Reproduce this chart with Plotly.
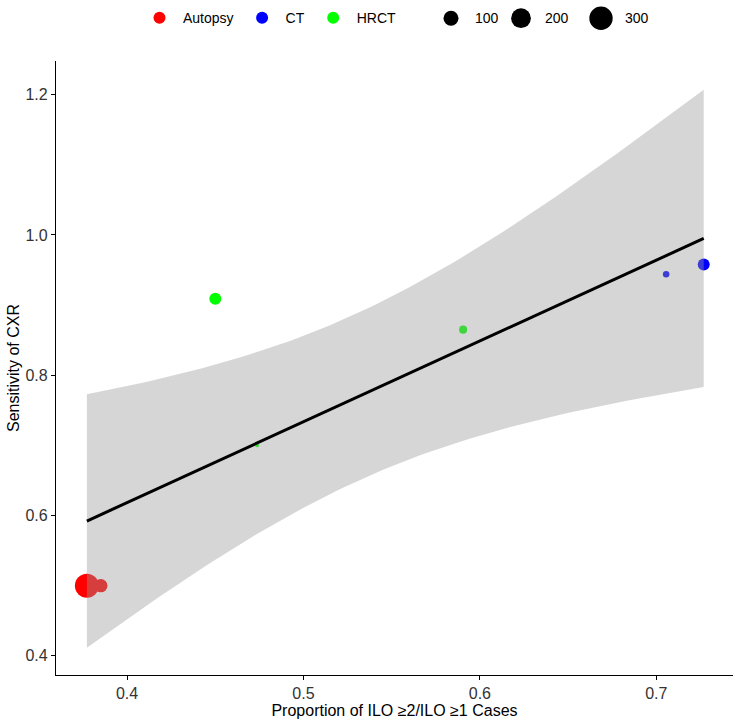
import numpy as np
import plotly.graph_objects as go

# ---- data ----
ref_standard = ["Autopsy", "Autopsy", "HRCT", "HRCT", "HRCT", "CT", "CT"]
prop_ilo = [0.3772, 0.3851, 0.4500, 0.4737, 0.5905, 0.7056, 0.7269]
sens_cxr = [0.500, 0.500, 0.909, 0.700, 0.865, 0.944, 0.958]
n_cases = [320, 75, 55, 5, 18, 10, 55]

group_names = ["Autopsy", "CT", "HRCT"]
group_colors = {"Autopsy": "#FF0000", "CT": "#0000FF", "HRCT": "#00FF00"}
size_breaks = [100, 200, 300]

x_ticks = [0.4, 0.5, 0.6, 0.7]
y_ticks = [0.4, 0.6, 0.8, 1.0, 1.2]

# ---- size scale (area-like, ggplot style) ----
n_min, n_max = min(n_cases), max(n_cases)


def diam(n):
    frac = max(0.0, (n - n_min) / (n_max - n_min))
    return 2 * 2.0 * (1 + 5 * np.sqrt(frac))


# ---- linear model with 95% CI (like geom_smooth(method="lm")) ----
x = np.array(prop_ilo)
y = np.array(sens_cxr)
k = len(x)
xm, ym = x.mean(), y.mean()
sxx = ((x - xm) ** 2).sum()
slope = ((x - xm) * (y - ym)).sum() / sxx
intercept = ym - slope * xm
resid = y - (intercept + slope * x)
s = np.sqrt((resid ** 2).sum() / (k - 2))
T_CRIT = 2.570582  # t quantile 0.975, df = 5
xs = np.linspace(x.min(), x.max(), 80)
fit = intercept + slope * xs
se = s * np.sqrt(1 / k + (xs - xm) ** 2 / sxx)
lo = fit - T_CRIT * se
hi = fit + T_CRIT * se

fig = go.Figure()

for g in group_names:
    idx = [i for i, r in enumerate(ref_standard) if r == g]
    fig.add_trace(go.Scatter(
        x=[prop_ilo[i] for i in idx], y=[sens_cxr[i] for i in idx],
        mode="markers", name=g,
        marker=dict(color=group_colors[g], size=[diam(n_cases[i]) for i in idx],
                    line=dict(width=0), opacity=1),
        showlegend=True,
    ))

fig.add_trace(go.Scatter(
    x=np.concatenate([xs, xs[::-1]]), y=np.concatenate([hi, lo[::-1]]),
    fill="toself", fillcolor="rgba(153,153,153,0.4)", line=dict(width=0),
    mode="lines", hoverinfo="skip", showlegend=False,
))
fig.add_trace(go.Scatter(
    x=xs, y=fit, mode="lines", line=dict(color="black", width=3),
    showlegend=False,
))

# ---- size legend drawn as shapes + annotations ----
size_leg_x = [451, 521, 601]
W, H = 735, 722
ml, mr, mt, mb = 56, 2, 58, 47
pw, ph = W - ml - mr, H - mt - mb
leg_y = 1 + (mt - 15) / ph
shapes = []
annotations = []
for b, px in zip(size_breaks, size_leg_x):
    d = diam(b)
    xp = (px - ml) / pw
    shapes.append(dict(type="circle", xref="paper", yref="paper",
                       xsizemode="pixel", ysizemode="pixel",
                       xanchor=xp, yanchor=leg_y,
                       x0=-d / 2, x1=d / 2, y0=-d / 2, y1=d / 2,
                       fillcolor="black", line=dict(width=0)))
    annotations.append(dict(text=str(b), xref="paper", yref="paper",
                            x=(px + 22 - ml) / pw, y=leg_y, xanchor="left",
                            yanchor="middle", showarrow=False,
                            font=dict(size=14, color="black")))

fig.update_layout(
    width=W, height=H,
    margin=dict(l=ml, r=mr, t=mt, b=mb),
    plot_bgcolor="white", paper_bgcolor="white",
    font=dict(family="Liberation Sans, Arial, sans-serif", size=14, color="black"),
    shapes=shapes, annotations=annotations,
    legend=dict(orientation="h", x=(136 - ml) / pw, xanchor="left",
                y=leg_y, yanchor="middle", itemsizing="constant", itemwidth=37,
                font=dict(size=14), bgcolor="rgba(0,0,0,0)"),
    showlegend=True,
)
fig.update_xaxes(
    range=[0.3597, 0.7435], tickvals=x_ticks, ticktext=[f"{v:.1f}" for v in x_ticks],
    showline=True, linecolor="black", linewidth=1.2, ticks="outside",
    ticklen=4, tickcolor="black", tickwidth=1.1, showgrid=False, zeroline=False,
    tickfont=dict(size=16, color="#333333"), automargin=True,
    title=dict(text="Proportion of ILO ≥2/ILO ≥1 Cases", font=dict(size=16), standoff=1),
)
fig.update_yaxes(
    range=[0.3726, 1.248], tickvals=y_ticks, ticktext=[f"{v:.1f}" for v in y_ticks],
    showline=True, linecolor="black", linewidth=1.2, ticks="outside",
    ticklen=4, tickcolor="black", tickwidth=1.1, showgrid=False, zeroline=False,
    tickfont=dict(size=16, color="#333333"), automargin=True,
    title=dict(text="Sensitivity of CXR", font=dict(size=16), standoff=1),
)

fig.write_html("out.html")
